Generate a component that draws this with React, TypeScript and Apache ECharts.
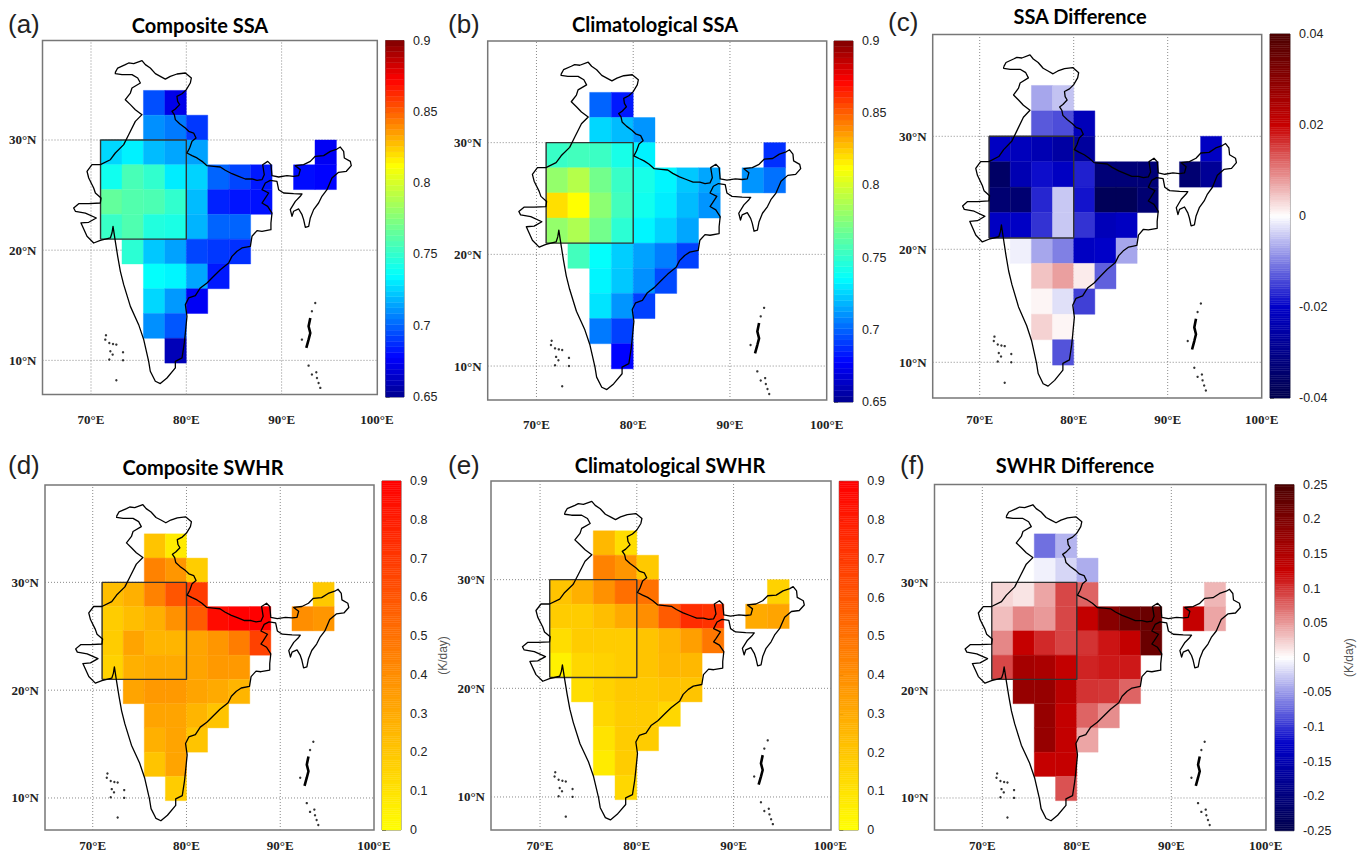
import React, { useEffect, useRef } from "react";
import * as echarts from "echarts";

// grid cells: latitude of each row and the longitudes present in that row
const rowLats = [33.375, 31.125, 28.875, 26.625, 24.375, 22.125, 19.875, 17.625, 15.375, 13.125, 10.875];
const rowLons = [
  [76.625, 78.875],
  [76.625, 78.875, 81.125],
  [72.125, 74.375, 76.625, 78.875, 81.125, 94.625],
  [72.125, 74.375, 76.625, 78.875, 81.125, 83.375, 85.625, 87.875, 92.375, 94.625],
  [72.125, 74.375, 76.625, 78.875, 81.125, 83.375, 85.625, 87.875],
  [72.125, 74.375, 76.625, 78.875, 81.125, 83.375, 85.625],
  [74.375, 76.625, 78.875, 81.125, 83.375, 85.625],
  [76.625, 78.875, 81.125, 83.375],
  [76.625, 78.875, 81.125],
  [76.625, 78.875],
  [78.875],
];

const compositeSSA = [
  [0.695, 0.672],
  [0.71, 0.705, 0.69],
  [0.726, 0.732, 0.72, 0.715, 0.714, 0.675],
  [0.74, 0.757, 0.75, 0.731, 0.725, 0.7, 0.693, 0.683, 0.68, 0.678],
  [0.765, 0.76, 0.758, 0.75, 0.72, 0.685, 0.682, 0.681],
  [0.752, 0.759, 0.745, 0.743, 0.718, 0.7, 0.7],
  [0.748, 0.7225, 0.714, 0.693, 0.69, 0.688],
  [0.736, 0.733, 0.715, 0.683],
  [0.726, 0.712, 0.675],
  [0.71, 0.697],
  [0.66],
];
const climatologicalSSA = [
  [0.7, 0.683],
  [0.726, 0.72, 0.711],
  [0.752, 0.755, 0.753, 0.742, 0.732, 0.688],
  [0.78, 0.79, 0.77, 0.752, 0.742, 0.733, 0.7225, 0.715, 0.711, 0.703],
  [0.82, 0.8125, 0.778, 0.755, 0.74, 0.731, 0.72, 0.711],
  [0.78, 0.788, 0.77, 0.748, 0.733, 0.725, 0.715],
  [0.755, 0.736, 0.724, 0.714, 0.706, 0.692],
  [0.733, 0.7225, 0.71, 0.694],
  [0.729, 0.711, 0.692],
  [0.705, 0.692],
  [0.678],
];
const differenceSSA = [
  [-0.007, -0.0047],
  [-0.013, -0.014, -0.0225],
  [-0.021, -0.022, -0.0235, -0.026, -0.027, -0.021],
  [-0.036, -0.0235, -0.019, -0.021, -0.0175, -0.033, -0.033, -0.033, -0.034, -0.028],
  [-0.034, -0.034, -0.017, -0.0043, -0.0185, -0.038, -0.038, -0.034],
  [-0.021, -0.0205, -0.016, -0.0043, -0.016, -0.0225, -0.021],
  [-0.0012, -0.007, -0.01, -0.021, -0.02, -0.007],
  [0.0047, 0.0075, 0.0016, -0.0125],
  [0.0008, -0.0024, -0.015],
  [0.0035, 0.0008],
  [-0.0135],
];
const compositeSWHR = [
  [0.21, 0.07],
  [0.44, 0.37, 0.176],
  [0.23, 0.28, 0.44, 0.6, 0.69, 0.19],
  [0.18, 0.23, 0.28, 0.39, 0.58, 0.86, 0.9, 0.9, 0.4, 0.37],
  [0.18, 0.32, 0.26, 0.26, 0.32, 0.37, 0.46, 0.67],
  [0.16, 0.28, 0.3, 0.3, 0.32, 0.36, 0.36],
  [0.32, 0.36, 0.36, 0.32, 0.3, 0.26],
  [0.32, 0.32, 0.26, 0.21],
  [0.28, 0.32, 0.21],
  [0.21, 0.32],
  [0.18],
];
const climatologicalSWHR = [
  [0.25, 0.12],
  [0.44, 0.37, 0.19],
  [0.21, 0.28, 0.39, 0.51, 0.5, 0.16],
  [0.18, 0.18, 0.23, 0.3, 0.4, 0.58, 0.74, 0.72, 0.3, 0.32],
  [0.12, 0.18, 0.18, 0.18, 0.21, 0.26, 0.34, 0.48],
  [0.05, 0.14, 0.16, 0.18, 0.21, 0.25, 0.25],
  [0.12, 0.16, 0.19, 0.19, 0.21, 0.21],
  [0.14, 0.18, 0.18, 0.14],
  [0.1, 0.18, 0.18],
  [0.07, 0.18],
  [0.14],
];
const differenceSWHR = [
  [-0.07, -0.037],
  [-0.007, -0.02, -0.04],
  [0.02, 0.013, 0.044, 0.09, 0.076, 0.036],
  [0.032, 0.059, 0.05, 0.09, 0.13, 0.19, 0.215, 0.22, 0.128, 0.044],
  [0.059, 0.128, 0.105, 0.092, 0.1, 0.115, 0.13, 0.22],
  [0.09, 0.16, 0.155, 0.13, 0.108, 0.113, 0.113],
  [0.175, 0.175, 0.14, 0.1, 0.098, 0.076],
  [0.175, 0.13, 0.076, 0.056],
  [0.175, 0.13, 0.044],
  [0.128, 0.128],
  [0.085],
];

// India outline, [lon, lat]
const indiaOutline = [
  [72.55, 36.14], [72.8, 36.53], [73.6, 36.84], [73.95, 36.99], [74.48, 36.93], [75.35, 37.2], [75.7, 36.84],
  [76.22, 36.53], [76.75, 36.02], [77.27, 35.78], [77.8, 35.53], [78.32, 35.78], [79.02, 35.99], [79.9, 36.08],
  [80.53, 35.63], [80.42, 35.17], [80.0, 34.57], [79.55, 34.2], [79.02, 33.96], [79.09, 33.51], [79.3, 33.21],
  [78.85, 32.81], [78.5, 32.6], [78.74, 32.3], [78.85, 31.85], [79.3, 31.48], [79.9, 31.09], [80.25, 30.79],
  [80.77, 30.63], [81.02, 30.18], [80.6, 29.88], [80.35, 29.27], [80.07, 28.82], [80.6, 28.58], [81.12, 28.37],
  [81.65, 28.06], [82.17, 27.67], [82.87, 27.61], [83.57, 27.55], [84.09, 27.25], [84.79, 26.94], [85.49, 26.7],
  [86.19, 26.46], [86.89, 26.46], [87.42, 26.34], [87.94, 26.4], [88.18, 26.85], [88.01, 27.76], [88.54, 28.06],
  [88.88, 27.76], [88.99, 26.76], [89.69, 26.64], [90.56, 26.76], [91.26, 26.7], [91.79, 26.76], [91.96, 27.31],
  [91.44, 27.67], [92.31, 27.76], [93.01, 28.06], [93.53, 28.52], [94.41, 28.58], [95.11, 28.97], [95.81, 29.18],
  [96.16, 29.36], [96.51, 28.97], [96.58, 28.37], [97.21, 28.06], [97.31, 27.67], [96.79, 27.16], [95.98, 27.07],
  [95.28, 26.55], [94.76, 25.49], [94.23, 24.89], [93.88, 24.28], [93.36, 23.68], [93.01, 22.92], [92.84, 22.16],
  [92.49, 22.07], [92.31, 22.77], [92.14, 23.22], [91.79, 23.74], [91.26, 23.53], [91.09, 23.07], [90.91, 23.68],
  [91.44, 24.43], [91.96, 24.89], [92.14, 25.1], [91.26, 25.13], [90.21, 25.19], [89.69, 25.49], [89.51, 26.25],
  [88.81, 26.34], [88.29, 26.1], [87.94, 25.49], [88.64, 25.19], [88.18, 24.58], [87.94, 24.28], [88.54, 23.98],
  [88.99, 23.37], [88.88, 22.47], [88.88, 21.86], [87.94, 21.71], [87.42, 21.77], [86.89, 21.26], [86.72, 20.35],
  [85.84, 20.2], [85.32, 19.9], [84.79, 19.44], [84.44, 18.84], [83.57, 18.23], [82.87, 17.63], [82.17, 17.02],
  [81.47, 16.57], [80.95, 15.87], [80.25, 15.66], [79.9, 15.06], [80.07, 14.0], [79.9, 12.49], [79.79, 11.58],
  [79.55, 10.22], [78.85, 9.91], [78.85, 9.31], [77.97, 8.4], [77.27, 7.89], [76.75, 8.1], [76.22, 9.01],
  [76.05, 9.91], [75.53, 11.88], [75.0, 13.24], [74.13, 14.9], [73.43, 16.87], [73.08, 18.08], [72.8, 19.44],
  [72.55, 20.8], [72.31, 22.16], [72.2, 21.56], [72.03, 21.11], [70.98, 20.89], [70.28, 20.65], [69.58, 21.26],
  [68.95, 22.47], [69.76, 22.53], [70.56, 22.92], [69.41, 23.37], [68.36, 23.53], [68.18, 23.83], [68.71, 24.22],
  [69.76, 24.22], [70.98, 24.28], [71.05, 24.74], [70.46, 25.19], [70.28, 25.64], [69.76, 26.55], [69.58, 27.16],
  [70.1, 27.76], [70.98, 27.76], [72.03, 28.21], [72.55, 28.82], [73.43, 29.58], [73.95, 30.48], [74.65, 31.69],
  [75.35, 32.3], [74.65, 32.75], [74.13, 33.21], [73.6, 33.66], [74.13, 34.26], [74.3, 34.72], [75.18, 35.17],
  [74.9, 35.63], [74.3, 35.93], [73.25, 35.93], [72.55, 36.02], [72.55, 36.14],
];
const northAndaman = [[93.01, 13.85], [92.83, 13.09], [93.01, 12.48], [92.83, 11.88], [92.59, 11.13]];
const islandDots = [
  [71.57, 12.27], [71.5, 11.88], [71.92, 11.58], [72.31, 11.49], [72.66, 11.43], [72.03, 10.82], [72.27, 10.52],
  [73.36, 10.73], [71.92, 10.07], [73.36, 10.01], [72.66, 8.19], [93.53, 15.21], [93.18, 14.45], [92.13, 11.88],
  [92.83, 9.52], [93.18, 8.71], [93.64, 8.92], [93.71, 8.4], [93.88, 7.95], [94.06, 7.5],
];
const studyBox = [[71, 21], [71, 30], [80, 30], [80, 21], [71, 21]];
const cellSize = 2.25;
const gridLons = [70, 80, 90];
const gridLats = [10, 20, 30];
const lonLabels = [70, 80, 90, 100];

// colour ramps: [position, r, g, b]
const jetRamp = [[0, 0, 0, 143], [0.11, 0, 0, 255], [0.34, 0, 255, 255], [0.65, 255, 255, 0], [0.89, 255, 0, 0], [1, 128, 0, 0]];
const divergingRamp = [[0, 0, 0, 76], [0.25, 0, 0, 200], [0.5, 255, 255, 255], [0.75, 200, 0, 0], [1, 76, 0, 0]];
const heatRamp = [[0, 255, 255, 0], [1, 255, 0, 0]];

const colourAt = (ramp: number[][], t: number) => {
  const q = Math.min(1, Math.max(0, t));
  for (let i = 1; i < ramp.length; i++) {
    if (q <= ramp[i][0]) {
      const a = ramp[i - 1];
      const b = ramp[i];
      const f = (q - a[0]) / (b[0] - a[0]);
      return `rgb(${[1, 2, 3].map((k) => Math.round(a[k] + (b[k] - a[k]) * f)).join(",")})`;
    }
  }
  return "rgb(128,0,0)";
};

const panels = [
  { letter: "(a)", letterX: 8, letterY: 24, title: "Composite SSA", titleX: 200, titleY: 25, values: compositeSSA, ramp: jetRamp,
    frame: [42.5, 377.3, 40.5, 394.5], lon: [64.91, 100.04], lat: [6.9, 39.03], labelGap: 18,
    bar: [385.7, 404, 40.5, 397], range: [0.65, 0.9], step: 0.05, levels: 64, unit: "", unitGap: 0 },
  { letter: "(b)", letterX: 448, letterY: 24, title: "Climatological SSA", titleX: 655, titleY: 24, values: climatologicalSSA, ramp: jetRamp,
    frame: [487.7, 826.7, 41, 400], lon: [64.96, 100], lat: [6.96, 39.1], labelGap: 18,
    bar: [834, 853, 41, 402], range: [0.65, 0.9], step: 0.05, levels: 64, unit: "", unitGap: 0 },
  { letter: "(c)", letterX: 888, letterY: 22, title: "SSA Difference", titleX: 1080, titleY: 16, values: differenceSSA, ramp: divergingRamp,
    frame: [932.7, 1261.7, 34.6, 398], lon: [65, 100], lat: [6.84, 39], labelGap: 15,
    bar: [1270, 1290, 34, 398], range: [-0.04, 0.04], step: 0.02, levels: 160, unit: "", unitGap: 0 },
  { letter: "(d)", letterX: 8, letterY: 465, title: "Composite SWHR", titleX: 203, titleY: 467, values: compositeSWHR, ramp: heatRamp,
    frame: [45, 374, 485, 830], lon: [64.91, 100], lat: [7.03, 39.03], labelGap: 9,
    bar: [382, 401, 481, 830], range: [0, 0.9], step: 0.1, levels: 160, unit: "(K/day)", unitGap: 36 },
  { letter: "(e)", letterX: 448, letterY: 465, title: "Climatological SWHR", titleX: 670, titleY: 465, values: climatologicalSWHR, ramp: heatRamp,
    frame: [491, 831, 481, 830], lon: [64.93, 100.07], lat: [6.96, 39.08], labelGap: 9,
    bar: [839.3, 858.3, 481.3, 830], range: [0, 0.9], step: 0.1, levels: 160, unit: "", unitGap: 0 },
  { letter: "(f)", letterX: 900, letterY: 465, title: "SWHR Difference", titleX: 1075, titleY: 465, values: differenceSWHR, ramp: divergingRamp,
    frame: [934.5, 1266, 484.5, 830], lon: [64.94, 100.02], lat: [7.03, 39.08], labelGap: 9,
    bar: [1275, 1294, 484.7, 830.7], range: [-0.25, 0.25], step: 0.05, levels: 160, unit: "(K/day)", unitGap: 49 },
];

const buildOption = () => {
  const grids: any[] = [];
  const xAxes: any[] = [];
  const yAxes: any[] = [];
  const series: any[] = [];
  const texts: any[] = [];

  panels.forEach((p) => {
    // map grid
    const mapIndex = grids.length;
    grids.push({
      show: true, left: p.frame[0], width: p.frame[1] - p.frame[0], top: p.frame[2], height: p.frame[3] - p.frame[2],
      borderColor: "#777", borderWidth: 1.5, backgroundColor: "#fff", containLabel: false,
    });
    xAxes.push({
      gridIndex: mapIndex, type: "value", min: p.lon[0], max: p.lon[1], splitLine: { show: false },
      axisLine: { show: false }, axisTick: { show: false },
      axisLabel: {
        customValues: lonLabels, margin: p.labelGap, formatter: (v: number) => `${v}°E`, color: "#222",
        fontFamily: "Liberation Serif", fontWeight: "bold", fontSize: 13,
      },
    });
    yAxes.push({
      gridIndex: mapIndex, type: "value", min: p.lat[0], max: p.lat[1], splitLine: { show: false },
      axisLine: { show: false }, axisTick: { show: false },
      axisLabel: {
        customValues: gridLats, margin: 6, formatter: (v: number) => `${v}°N`, color: "#222",
        fontFamily: "Liberation Serif", fontWeight: "bold", fontSize: 13, padding: [6, 0, 0, 0],
      },
    });
    const base = { xAxisIndex: mapIndex, yAxisIndex: mapIndex, animation: false, silent: true };
    const gridData: any[] = [];
    gridLons.forEach((g) => gridData.push([g, p.lat[0]], [g, p.lat[1]], ["-", "-"]));
    gridLats.forEach((g) => gridData.push([p.lon[0], g], [p.lon[1], g], ["-", "-"]));
    series.push({
      ...base, type: "line", data: gridData, symbol: "none", z: 1, connectNulls: false,
      lineStyle: { color: "#8a8a8a", width: 1, type: [1, 2] },
    });
    const cells: number[][] = [];
    rowLats.forEach((lat, r) => rowLons[r].forEach((lon, c) => cells.push([lon, lat, p.values[r][c]])));
    series.push({
      ...base, type: "custom", data: cells, z: 2, encode: { x: 0, y: 1 },
      renderItem: (_: any, api: any) => {
        const lon = api.value(0);
        const lat = api.value(1);
        const a = api.coord([lon - cellSize / 2, lat + cellSize / 2]);
        const b = api.coord([lon + cellSize / 2, lat - cellSize / 2]);
        const t = (api.value(2) - p.range[0]) / (p.range[1] - p.range[0]);
        const fill = colourAt(p.ramp, t);
        return {
          type: "rect", shape: { x: a[0], y: a[1], width: b[0] - a[0], height: b[1] - a[1] },
          style: { fill, stroke: fill, lineWidth: 0.4 },
        };
      },
    });
    series.push({
      ...base, type: "line", data: studyBox, symbol: "none", z: 3,
      lineStyle: { color: "#333", width: 1.4 },
    });
    series.push({
      ...base, type: "line", data: indiaOutline, symbol: "none", z: 4,
      lineStyle: { color: "#000", width: 1.3, join: "round" },
    });
    series.push({
      ...base, type: "line", data: northAndaman, symbol: "none", z: 4,
      lineStyle: { color: "#000", width: 2.6 },
    });
    series.push({
      ...base, type: "scatter", data: islandDots, symbol: "circle", symbolSize: 2.4, z: 4,
      itemStyle: { color: "#000" },
    });

    // colour bar grid
    const barIndex = grids.length;
    grids.push({
      show: true, left: p.bar[0], width: p.bar[1] - p.bar[0], top: p.bar[2], height: p.bar[3] - p.bar[2],
      borderColor: "#444", borderWidth: 0.8, containLabel: false,
    });
    xAxes.push({
      gridIndex: barIndex, type: "value", min: 0, max: 1, show: false,
    });
    yAxes.push({
      gridIndex: barIndex, type: "value", position: "right", min: p.range[0], max: p.range[1], interval: p.step,
      splitLine: { show: false }, axisLine: { show: false },
      axisTick: { show: true, length: 4, lineStyle: { color: "#666", width: 1 } },
      axisLabel: { margin: 9, color: "#222", fontFamily: "Liberation Sans", fontSize: 12.5 },
      name: p.unit, nameLocation: "middle", nameGap: p.unitGap, nameRotate: 90,
      nameTextStyle: { color: "#555", fontFamily: "Liberation Sans", fontSize: 12 },
    });
    const bands: number[][] = [];
    for (let i = 0; i < p.levels; i++) bands.push([i]);
    series.push({
      xAxisIndex: barIndex, yAxisIndex: barIndex, animation: false, silent: true, type: "custom", data: bands, z: 2,
      encode: { x: -1, y: -1 },
      renderItem: (_: any, api: any) => {
        const i = api.value(0);
        const span = p.range[1] - p.range[0];
        const a = api.coord([0, p.range[0] + (span * (i + 1)) / p.levels]);
        const b = api.coord([1, p.range[0] + (span * i) / p.levels]);
        const fill = colourAt(p.ramp, (i + 0.5) / p.levels);
        return {
          type: "rect", shape: { x: a[0], y: a[1], width: b[0] - a[0], height: b[1] - a[1] },
          style: { fill, stroke: fill, lineWidth: 0.4 },
        };
      },
    });

    texts.push({
      type: "text", x: p.letterX, y: p.letterY,
      style: { text: p.letter, fill: "#222", font: "26px 'Liberation Sans'", textAlign: "left", textVerticalAlign: "middle" },
    });
    texts.push({
      type: "text", x: p.titleX, y: p.titleY,
      style: { text: p.title, fill: "#000", font: "bold 20px Lato", textAlign: "center", textVerticalAlign: "middle" },
    });
  });

  return {
    animation: false, backgroundColor: "#fff", grid: grids, xAxis: xAxes, yAxis: yAxes, series, graphic: texts,
  };
};

export default function App() {
  const ref = useRef<HTMLDivElement>(null);
  useEffect(() => {
    const chart = echarts.init(ref.current!, undefined, { renderer: "svg" });
    chart.setOption(buildOption() as any);
    return () => chart.dispose();
  }, []);
  return <div ref={ref} style={{ position: "absolute", left: 0, top: 0, width: 1358, height: 852 }} />;
}
